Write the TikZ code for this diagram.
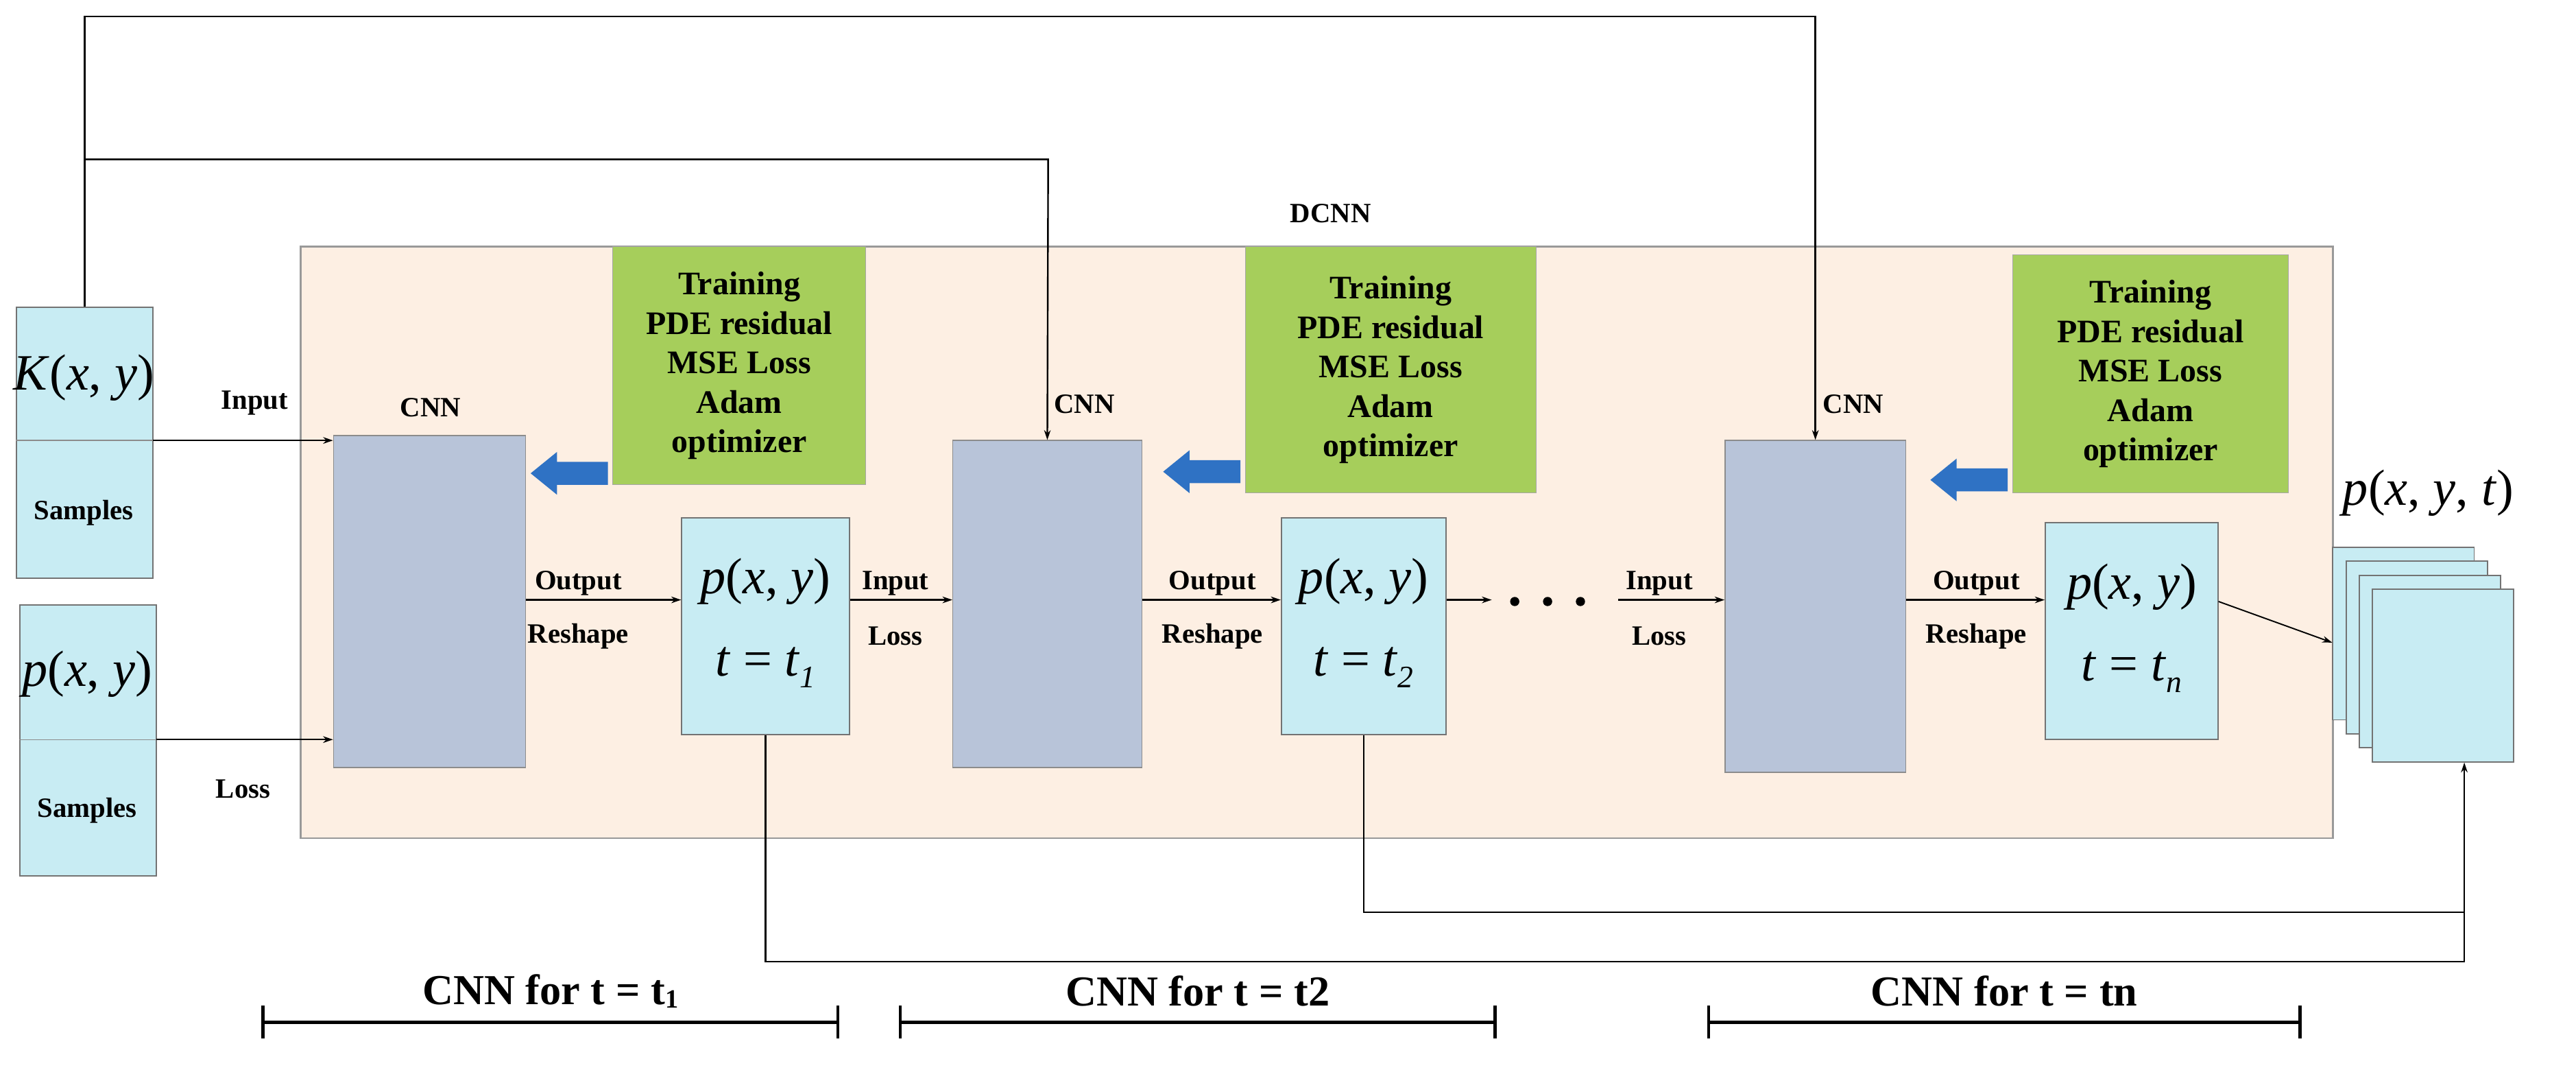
\documentclass[tikz,border=0pt]{standalone}
\usepackage{fontspec}
\setmainfont{Liberation Serif}
\usetikzlibrary{arrows.meta}
\newcommand{\mi}[1]{\textit{#1}}
\begin{document}
\begin{tikzpicture}[x=1pt,y=-1pt,
  lbl/.style={font=\fontsize{17}{19}\selectfont\bfseries},
  mth/.style={font=\fontsize{31}{33}\selectfont},
  cnn/.style={draw=black!45,fill=cnnc,line width=0.6pt},
  grn/.style={draw=black!35,fill=grnc,align=center,font=\fontsize{20}{24}\selectfont\bfseries},
  arr/.style={-{Stealth[length=6pt,width=4pt]},line width=1pt},
  ln/.style={line width=1pt}]
\definecolor{cnnc}{HTML}{B8C4D9}
\definecolor{grnc}{HTML}{A6CE5B}
\definecolor{bgc}{HTML}{FDEFE3}
\definecolor{cyc}{HTML}{C8ECF3}
\definecolor{bluc}{HTML}{2F72C4}
\tikzset{cyanbox/.style={draw=black!55,fill=cyc,line width=0.8pt}}
\useasboundingbox (0,0) rectangle (1568,651);
% background
\node[draw=black!40,fill=bgc,line width=1pt,minimum width=1237pt,minimum height=360pt,inner sep=0] (bg) at (801.5,330) {};
\node[lbl] (dcnn) at (810,130) {DCNN};
% input boxes
\node[cyanbox,minimum width=83pt,minimum height=165pt,inner sep=0] (kb) at (51.5,269.5) {};
\draw[black!45,line width=0.6pt] (kb.west|-0,268) -- (kb.east|-0,268);
\node[mth,inner sep=0] (kt) at (51,230) {\mi{K}(\mi{x}, \mi{y})};
\node[lbl] (ks) at (51,312) {Samples};
\node[cyanbox,minimum width=83pt,minimum height=165pt,inner sep=0] (pb) at (53.5,450.5) {};
\draw[black!45,line width=0.6pt] (pb.west|-0,450) -- (pb.east|-0,450);
\node[mth,inner sep=0] (pt) at (53,410) {\mi{p}(\mi{x}, \mi{y})};
\node[lbl] (ps) at (53,493) {Samples};
% CNNs
\node[cnn,minimum width=117pt,minimum height=202pt,inner sep=0] (c1) at (261.5,366) {};
\node[cnn,minimum width=115pt,minimum height=199pt,inner sep=0] (c2) at (637.5,367.5) {};
\node[cnn,minimum width=110pt,minimum height=202pt,inner sep=0] (c3) at (1105,369) {};
\node[lbl] (cl1) at (262,248) {CNN};
\node[lbl] (cl2) at (660,246) {CNN};
\node[lbl] (cl3) at (1128,246) {CNN};
% green
\node[grn,minimum width=154pt,minimum height=145pt,inner sep=0] (g1) at (450,222.5) {Training\\PDE residual\\MSE Loss\\Adam\\optimizer};
\node[grn,minimum width=177pt,minimum height=150pt,inner sep=0] (g2) at (846.5,225) {Training\\PDE residual\\MSE Loss\\Adam\\optimizer};
\node[grn,minimum width=168pt,minimum height=145pt,inner sep=0] (g3) at (1309,227.5) {Training\\PDE residual\\MSE Loss\\Adam\\optimizer};
% blue arrows
\foreach \xa/\ya in {323/288,708/287,1175/292}{
  \fill[bluc] (\xa,\ya) -- (\xa+16,\ya-13) -- (\xa+16,\ya-7) -- (\xa+47,\ya-7) -- (\xa+47,\ya+7) -- (\xa+16,\ya+7) -- (\xa+16,\ya+13) -- cycle;}
% p boxes
\node[cyanbox,minimum width=102pt,minimum height=132pt,inner sep=0] (p1) at (466,381) {};
\node[cyanbox,minimum width=100pt,minimum height=132pt,inner sep=0] (p2) at (830,381) {};
\node[cyanbox,minimum width=105pt,minimum height=132pt,inner sep=0] (p3) at (1297.5,384) {};
\foreach \b/\s in {p1/1,p2/2,p3/n}{
  \node[mth,inner sep=0] at ([yshift=27pt]\b.center) {\mi{p}(\mi{x}, \mi{y})};
  \node[mth,inner sep=0] at ([yshift=-25pt]\b.center) {\mi{t} = \mi{t}\raisebox{-7pt}{\fontsize{19}{19}\selectfont\mi{\s}}};}
% stack
\foreach \i in {0,1,2,3}{
  \node[cyanbox,minimum width=86pt,minimum height=105pt,inner sep=0] (s\i) at (1463+8*\i,385.5+8.5*\i) {};}
\node[mth,inner sep=0] (pxyt) at (1478,300) {\mi{p}(\mi{x}, \mi{y}, \mi{t})};
% connectors
\coordinate (ki) at (93,268); \coordinate (pi) at (95,450);
\draw[arr] (ki) -- (c1.west|-ki);
\draw[arr] (pi) -- (c1.west|-pi);
\node[lbl] at (155,245) {Input};
\node[lbl] at (148,480) {Loss};
\draw[arr] (c1.east|-0,365) -- (p1.west|-0,365);
\draw[arr] (p1.east|-0,365) -- (c2.west|-0,365);
\draw[arr] (c2.east|-0,365) -- (p2.west|-0,365);
\coordinate (dots) at (908,365);
\draw[arr] (p2.east|-0,365) -- (dots);
\foreach \dx in {922,942,962}{\fill (\dx,366) circle (2.8pt);}
\coordinate (dl) at (985,365);
\draw[arr] (dl) -- (c3.west|-0,365);
\draw[arr] (c3.east|-0,365) -- (p3.west|-0,365);
\draw[arr,line width=0.8pt] (p3.east|-0,366) -- (s0.west|-0,391);
\foreach \x/\t in {352/Output,738/Output,1203/Output,1010/Input,545/Input}{\node[lbl] at (\x,355) {\t};}
\foreach \x/\t in {352/Reshape,738/Reshape,1203/Reshape,1010/Loss,545/Loss}{\node[lbl] at (\x,387) {\t};}
% feedback lines
\draw[arr] (kb.north) -- (51.5,10) -- (1105,10) -- (c3.north);
\draw[arr] (51.5,97) -- (638,97) -- (c2.north);
\draw[arr] (p1.south) -- (466,585) -- (1500,585) -- (1500,464);
\draw[ln] (p2.south) -- (830,555) -- (1500,555);
% brackets
\foreach \a/\b/\t in {160/510/{CNN for t = t\raisebox{-2pt}{\fontsize{16}{16}\selectfont 1}},548/910/{CNN for t = t2},1040/1400/{CNN for t = tn}}{
  \draw[line width=2pt] (\a,622) -- (\b,622) (\a,612) -- (\a,632) (\b,612) -- (\b,632);
  \node[font=\fontsize{26}{28}\selectfont\bfseries] at ({(\a+\b)/2},603) {\t};}
\end{tikzpicture}
\end{document}
